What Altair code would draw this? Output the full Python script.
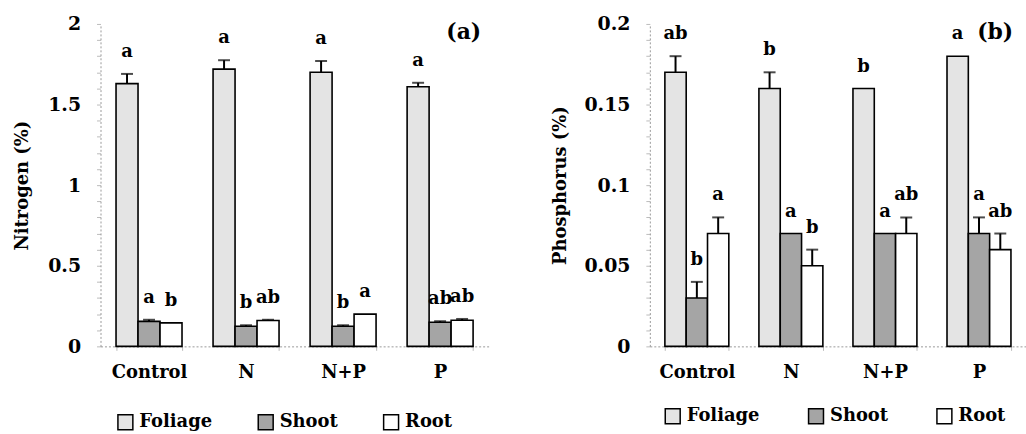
import altair as alt
import pandas as pd

categories = ["Control", "N", "N+P", "P"]
parts = ["Foliage", "Shoot", "Root"]
part_colors = ["#e4e4e4", "#a5a5a5", "#ffffff"]

# Panel (a): Nitrogen (%)
n_foliage = [1.63, 1.72, 1.70, 1.61]
n_foliage_err = [0.06, 0.055, 0.07, 0.025]
n_shoot = [0.155, 0.125, 0.125, 0.15]
n_shoot_err = [0.01, 0.006, 0.006, 0.006]
n_root = [0.146, 0.16, 0.20, 0.162]
n_root_err = [0.0, 0.005, 0.0, 0.008]
n_foliage_letters = ["a", "a", "a", "a"]
n_shoot_letters = ["a", "b", "b", "ab"]
n_root_letters = ["b", "ab", "a", "ab"]

# Panel (b): Phosphorus (%)
p_foliage = [0.17, 0.16, 0.16, 0.18]
p_foliage_err = [0.01, 0.01, 0.0, 0.0]
p_shoot = [0.03, 0.07, 0.07, 0.07]
p_shoot_err = [0.01, 0.0, 0.0, 0.01]
p_root = [0.07, 0.05, 0.07, 0.06]
p_root_err = [0.01, 0.01, 0.01, 0.01]
p_foliage_letters = ["ab", "b", "b", "a"]
p_shoot_letters = ["b", "a", "a", "a"]
p_root_letters = ["a", "b", "ab", "ab"]

# axis ticks (minor marks) and labelled ticks
n_ticks = [round(i * 0.1, 1) for i in range(21)]
n_labels = [0, 0.5, 1, 1.5, 2]
p_ticks = [round(i * 0.01, 2) for i in range(21)]
p_labels = [0, 0.05, 0.1, 0.15, 0.2]

FONT = "DejaVu Serif"


def build(vals, errs, letters):
    rows = []
    for part, v, e, l in zip(parts, vals, errs, letters):
        for c, vv, ee, ll in zip(categories, v, e, l):
            rows.append({"cat": c, "part": part, "value": vv, "err": ee,
                         "top": vv + ee, "letter": ll})
    return pd.DataFrame(rows)


df_n = build([n_foliage, n_shoot, n_root], [n_foliage_err, n_shoot_err, n_root_err],
             [n_foliage_letters, n_shoot_letters, n_root_letters])
df_p = build([p_foliage, p_shoot, p_root], [p_foliage_err, p_shoot_err, p_root_err],
             [p_foliage_letters, p_shoot_letters, p_root_letters])


def panel(df, ytitle, ymax, tick_vals, label_vals, fmt, tag, width, tag_x,
          leg_x, leg_y, colpad, title_pad):
    xenc = alt.X("cat:N", sort=categories,
                 scale=alt.Scale(paddingInner=0.32, paddingOuter=0.16),
                 axis=alt.Axis(title=None, labelAngle=0, labelFontSize=18,
                               labelFontWeight="bold", labelColor="black",
                               labelPadding=13, domainDash=[2, 2],
                               domainColor="#999", tickColor="#bbb", tickSize=4,
                               tickBand="extent", labelFont=FONT))
    xoff = alt.XOffset("part:N", sort=parts, scale=alt.Scale(paddingInner=0, paddingOuter=0))
    yscale = alt.Scale(domain=[0, ymax], nice=False)
    lab_list = "[" + ",".join(str(v) for v in label_vals) + "]"
    label_expr = ("indexof(" + lab_list + ", round(datum.value*1000)/1000) >= 0 "
                  "? format(datum.value, '" + fmt + "') : ''")
    yaxis = alt.Axis(title=ytitle, values=tick_vals, labelExpr=label_expr,
                     labelOverlap=False, labelBound=False, labelFlush=False,
                     grid=False, domainDash=[2, 2], domainColor="#999",
                     tickColor="#bbb", tickSize=4, labelFontSize=19,
                     labelFontWeight="bold", labelColor="black", labelPadding=16,
                     titleFontSize=18, titleFontWeight="bold", titleColor="black",
                     titlePadding=title_pad, labelFont=FONT, titleFont=FONT)
    base = alt.Chart(df)
    bars = base.mark_bar(stroke="black", strokeWidth=1.6).encode(
        x=xenc, xOffset=xoff,
        y=alt.Y("value:Q", scale=yscale, axis=yaxis),
        fill=alt.Fill("part:N", sort=parts,
                      scale=alt.Scale(domain=parts, range=part_colors),
                      legend=alt.Legend(title=None, orient="none", legendX=leg_x,
                                        legendY=leg_y, direction="horizontal",
                                        symbolType="square", symbolSize=225,
                                        symbolStrokeColor="black",
                                        symbolStrokeWidth=1.5, labelFontSize=18,
                                        labelFontWeight="bold", labelColor="black",
                                        labelOffset=5, columnPadding=colpad,
                                        labelFont=FONT)),
    )
    errs = base.transform_filter("datum.err > 0")
    rule = errs.mark_rule(color="black", strokeWidth=2).encode(
        x=xenc, xOffset=xoff, y=alt.Y("value:Q", scale=yscale, axis=yaxis), y2="top:Q")
    cap = errs.mark_tick(color="black", thickness=2, size=12).encode(
        x=xenc, xOffset=xoff, y=alt.Y("top:Q", scale=yscale, axis=yaxis))
    letters = base.mark_text(dy=-22, baseline="middle", fontSize=18,
                             fontWeight="bold", font=FONT, color="black").encode(
        x=xenc, xOffset=xoff, y=alt.Y("top:Q", scale=yscale, axis=yaxis),
        text="letter:N")
    tag_txt = alt.Chart(pd.DataFrame({"t": [tag]})).mark_text(
        fontSize=22, fontWeight="bold", font=FONT, color="black",
        baseline="middle").encode(x=alt.value(tag_x), y=alt.value(8), text="t:N")
    return alt.layer(bars, rule, cap, letters, tag_txt).properties(
        width=width, height=324)


left = panel(df_n, "Nitrogen (%)", 2.0, n_ticks, n_labels, ".1~f", "(a)",
             390, 365, 16, 391, 42, 16)
right = panel(df_p, "Phosphorus (%)", 0.2, p_ticks, p_labels, ".2~f", "(b)",
              378, 347, 14, 385, 45, 14)

chart = alt.hconcat(left, right, spacing=63).resolve_scale(
    x="independent", y="independent", fill="independent", xOffset="independent"
).properties(
    padding={"left": 13, "top": 14, "right": 0, "bottom": 0}
).configure(font=FONT).configure_view(strokeWidth=0)

chart.save("out.html", embed_options={"renderer": "svg", "actions": False})
